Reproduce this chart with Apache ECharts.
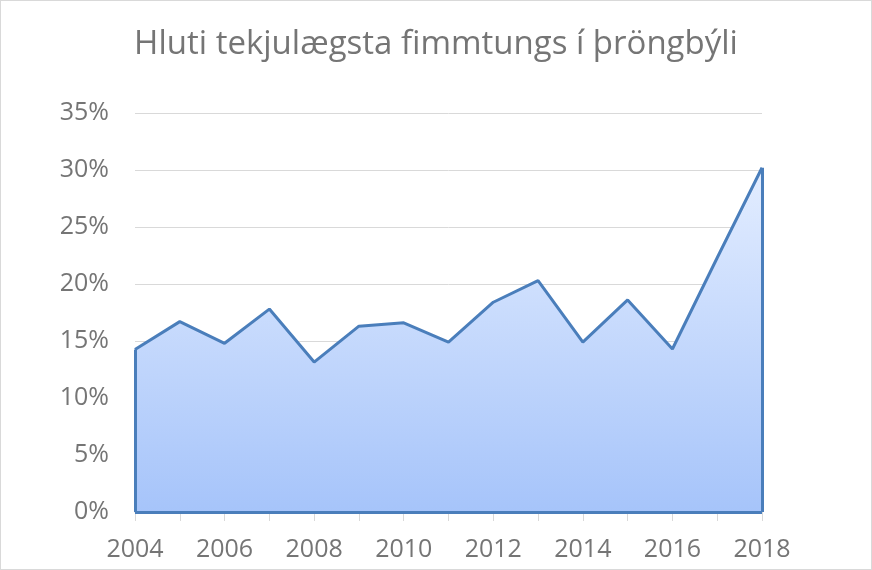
<!DOCTYPE html>
<html>
<head>
<meta charset="utf-8">
<script src="https://cdn.jsdelivr.net/npm/echarts@6/dist/echarts.min.js"></script>
<style>
html,body{margin:0;padding:0;background:#fff;}
#chart{width:872px;height:570px;box-sizing:border-box;border:1px solid #d9d9d9;}
</style>
</head>
<body>
<div id="chart"></div>
<script>
const titleText = 'Hluti tekjulægsta fimmtungs í þröngbýli';
const years = ['2004','2005','2006','2007','2008','2009','2010','2011','2012','2013','2014','2015','2016','2017','2018'];
const shares = [14.25, 16.7, 14.8, 17.8, 13.15, 16.3, 16.6, 14.9, 18.4, 20.3, 14.9, 18.6, 14.3, 22.3, 30.2];
const yTicks = [0, 5, 10, 15, 20, 25, 30, 35];

const chart = echarts.init(document.getElementById('chart'));
const font = 'Open Sans';
chart.setOption({
  animation: false,
  title: {
    text: titleText,
    left: 'center',
    top: 22,
    textStyle: {fontFamily: font, fontSize: 33, fontWeight: 'normal', color: '#757575'}
  },
  grid: {left: 134, right: 109, top: 112, bottom: 57, containLabel: false},
  xAxis: {
    type: 'category',
    data: years,
    boundaryGap: false,
    axisLine: {show: true, lineStyle: {color: '#d9d9d9', width: 1}},
    axisTick: {show: true, interval: 0, length: 9, lineStyle: {color: '#d9d9d9'}},
    axisLabel: {interval: 1, margin: 25, fontFamily: font, fontSize: 25, color: '#757575'},
    splitLine: {show: false}
  },
  yAxis: {
    type: 'value',
    min: yTicks[0],
    max: yTicks[yTicks.length - 1],
    interval: 5,
    axisLine: {show: false},
    axisTick: {show: false},
    axisLabel: {formatter: '{value}%', margin: 26, fontFamily: font, fontSize: 25, color: '#757575'},
    splitLine: {lineStyle: {color: '#d9d9d9', width: 1}}
  },
  series: [{
    type: 'line',
    data: shares,
    symbol: 'none',
    lineStyle: {color: '#4a7ebb', width: 3},
    itemStyle: {color: '#4a7ebb'},
    areaStyle: {
      opacity: 1,
      color: new echarts.graphic.LinearGradient(0, 0, 0, 1, [
        {offset: 0, color: '#e3edff'},
        {offset: 1, color: '#a6c4fa'}
      ])
    },
    markLine: {
      silent: true,
      symbol: 'none',
      label: {show: false},
      lineStyle: {color: '#4a7ebb', width: 3, type: 'solid'},
      data: [
        [{coord: [years[0], 0]}, {coord: [years[0], shares[0]]}],
        [{coord: [years[years.length-1], 0]}, {coord: [years[years.length-1], shares[shares.length-1]]}],
        [{coord: [years[0], 0]}, {coord: [years[years.length-1], 0]}]
      ]
    }
  }]
});
</script>
</body>
</html>
